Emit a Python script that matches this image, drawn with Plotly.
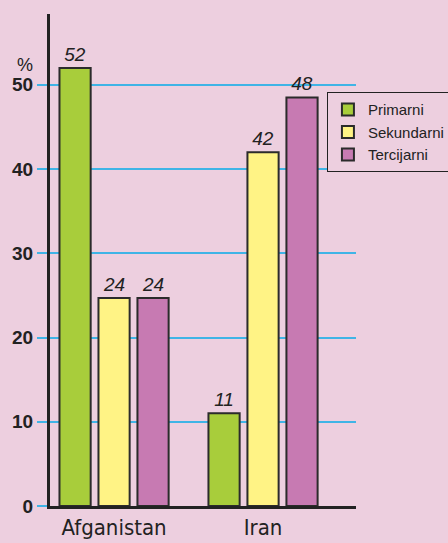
import plotly.graph_objects as go

categories = ["Afganistan", "Iran"]
series_names = ["Primarni", "Sekundarni", "Tercijarni"]
primarni = [52, 11]
sekundarni = [24.7, 42]
tercijarni = [24.7, 48.5]
labels_primarni = ["52", "11"]
labels_sekundarni = ["24", "42"]
labels_tercijarni = ["24", "48"]
y_ticks = [0, 10, 20, 30, 40, 50]

colors = ["#a8cd3b", "#fff385", "#c77ab2"]
bg = "#edcfdf"

fig = go.Figure()
for name, vals, labs, col in zip(series_names,
                                 [primarni, sekundarni, tercijarni],
                                 [labels_primarni, labels_sekundarni, labels_tercijarni],
                                 colors):
    fig.add_trace(go.Bar(
        x=categories, y=vals, name=name,
        text=[f"<i>{l}</i>" for l in labs],
        textposition="outside", cliponaxis=False,
        textfont=dict(family="Liberation Sans, Arial", size=19, color="#222222"),
        marker=dict(color=col, line=dict(color="#2b2b2b", width=2)),
    ))

fig.update_layout(
    width=448, height=543,
    paper_bgcolor=bg, plot_bgcolor=bg,
    margin=dict(l=50, r=92, t=14, b=37, autoexpand=False),
    barmode="group", bargap=0.215, bargroupgap=0.2,
    showlegend=True,
    legend=dict(x=0.905, y=0.841, xanchor="left", yanchor="top",
                bgcolor=bg, bordercolor="#222222", borderwidth=1,
                font=dict(family="Liberation Sans, Arial", size=15, color="#222222"),
                tracegroupgap=0, itemsizing="constant"),
    annotations=[dict(text="%", xref="paper", yref="paper", x=(25-50)/306, y=(506-65)/492,
                      xanchor="center", yanchor="middle", showarrow=False,
                      font=dict(family="Liberation Sans, Arial", size=18, color="#222222"))],
)
fig.update_xaxes(
    range=[-0.43, 1.624], showline=True, linecolor="#222222", linewidth=3,
    showgrid=False, ticks="", automargin=False,
    tickfont=dict(family="DejaVu Sans Condensed, DejaVu Sans", size=22, color="#222222"),
)
fig.update_yaxes(
    range=[0, 58.4], tickvals=y_ticks, showline=True, linecolor="#222222", linewidth=3,
    showgrid=True, gridcolor="#3fb4e6", gridwidth=2, zeroline=False, automargin=False,
    ticks="outside", ticklen=10, tickcolor="#3fb4e6", tickwidth=2,
    tickfont=dict(family="Liberation Sans, Arial", size=19, color="#222222", weight="bold"),
)
fig.write_html("out.html", config={"displayModeBar": False},
               post_script="document.body.style.margin='0';document.body.style.overflow='hidden';")
